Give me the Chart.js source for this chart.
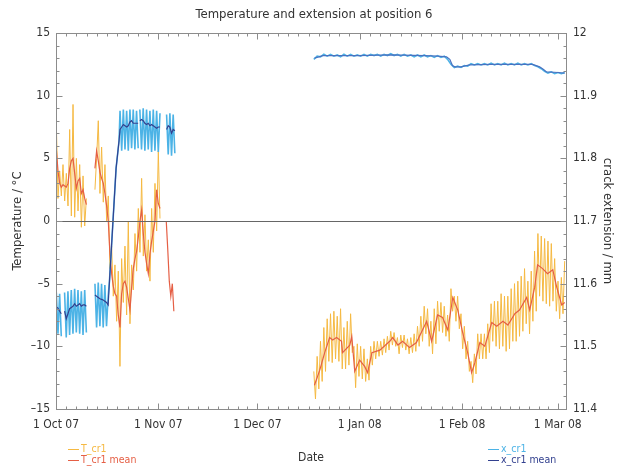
<!DOCTYPE html>
<html>
<head>
<meta charset="utf-8">
<script src="https://cdn.jsdelivr.net/npm/chart.js@4.4.1/dist/chart.umd.min.js"></script>
<style>
  html, body { margin: 0; padding: 0; background: #fff; }
</style>
</head>
<body>
<canvas id="myChart" width="624" height="469"></canvas>
<script>
// Axis ticks (days since 1 Oct 07)
const monthDays = [0, 31, 61, 92, 123, 152];
const monthLabels = ['1 Oct 07', '1 Nov 07', '1 Dec 07', '1 Jan 08', '1 Feb 08', '1 Mar 08'];
const tempTicks = [-15, -10, -5, 0, 5, 10, 15];
const extTicks = [11.4, 11.5, 11.6, 11.7, 11.8, 11.9, 12];

// T_cr1 (°C), each run sampled evenly between its first and last day
const tRawA = [7.8, 1.8, 4.0, 2.0, 4.5, 1.6, 3.8, 1.2, 7.3, 0.4, 9.3, 0.3, 5.0, 0.8, 4.5, -0.5, 3.6, -0.4, 1.8];
const tRawB = [2.5, 5.0, 8.0, 2.2, 5.9, 1.5, 4.5, 0.0, 2.0, -3.8, -2.0, -6.0, -3.5, -8.0, -4.0, -11.6, -3.0, -6.5, -2.0, -7.5,
  0.0, -8.2, -3.5, -5.5, -1.0, -4.0, 1.0, -2.5, 3.4, -2.8, 0.5, -4.0, -1.5, -4.8, 1.0, -2.5, 3.0, -0.8, 5.6, 0.2];
const tRawD = [-12.0, -14.2, -10.8, -13.4, -9.6, -12.8, -8.5, -12.0, -7.8, -11.2,
  -7.4, -11.3, -7.2, -11.0, -7.6, -11.2, -7.0, -11.8, -8.5, -11.8,
  -8.0, -11.5, -7.4, -10.5, -10.0, -13.3, -9.8, -12.4, -10.0, -12.6,
  -10.2, -12.8, -11.0, -12.7, -10.0, -11.5, -9.6, -11.0, -9.6, -10.8,
  -9.6, -10.7, -9.4, -10.5, -9.2, -10.3, -8.8, -9.9, -8.9, -10.0,
  -9.3, -10.6, -9.1, -10.1, -9.1, -10.3, -9.4, -10.6, -9.3, -10.5,
  -9.0, -10.4, -8.4, -10.0, -7.6, -9.6, -6.8, -9.0, -7.0, -10.0,
  -8.0, -10.6, -7.0, -9.8, -6.4, -8.8, -6.5, -8.9, -6.8, -9.2,
  -7.5, -9.6,
  -5.4, -7.2, -6.0, -8.0, -6.0, -8.6, -7.4, -10.2, -8.4, -11.0,
  -9.6, -12.0, -11.2, -12.9, -10.6, -12.2, -9.0, -11.0, -9.0, -11.0,
  -9.0, -11.0, -8.2, -10.5, -6.6, -9.6, -6.4, -10.0, -6.4, -10.2,
  -5.8, -10.0, -6.0, -10.4, -6.0, -10.2, -5.4, -9.6, -5.0, -9.6,
  -4.8, -9.2, -4.4, -8.8, -3.8, -8.2, -4.8, -9.0, -4.0, -8.0,
  -2.4, -7.2, -1.0, -6.0, -1.2, -6.4, -1.4, -6.6, -1.6, -6.8,
  -1.8, -6.4, -3.0, -7.2, -4.8, -7.8, -4.5, -7.4, -3.2];

// T_cr1 mean (°C)
const tMeanA = [5.7, 4.0, 3.0, 2.7, 2.9, 2.8, 2.7, 3.0, 4.2, 4.8, 5.0, 3.8, 2.6, 3.2, 3.4, 2.2, 2.5, 1.8, 1.3];
const tMeanB = [4.2, 5.6, 4.8, 3.9, 3.4, 3.0, 2.2, 1.2, 0.0, -2.6, -4.2, -5.2, -5.8, -6.0, -7.5, -8.5, -5.8, -5.0, -4.8, -5.3,
  -6.2, -7.1, -5.3, -3.8, -3.0, -2.4, -1.3, 0.0, 0.9, -1.0, -2.5, -3.4, -4.2, -2.6, -1.6, -0.8, 0.0, 2.5, 1.4, 1.0];
const tMeanC = [0.0, -2.3, -4.8, -6.0, -5.0, -7.2];
const tMeanDDays = [78.3, 79.9, 81.4, 82.9, 83.8, 85.0, 86.5, 86.8, 89.0, 89.6, 90.5, 92.0, 93.5, 94.4, 95.7, 98.1, 101.1,
  102.0, 103.6, 105.0, 107.1, 109.2, 112.3, 113.8, 115.6, 117.1, 118.7, 120.2, 121.7, 123.2, 124.7, 125.9, 126.9, 128.4,
  129.9, 132.0, 133.5, 135.4, 136.9, 139.0, 140.4, 142.6, 143.5, 145.0, 145.9, 147.4, 148.9, 150.5, 151.7, 153.2, 154.1];
const tMeanD = [-13.1, -11.9, -10.5, -9.3, -9.5, -9.3, -9.6, -10.5, -9.9, -9.2, -12.0, -11.1, -11.6, -12.1, -10.5, -10.3, -9.6,
  -9.3, -9.9, -9.6, -10.1, -9.7, -8.0, -9.6, -7.5, -7.7, -8.7, -6.1, -7.1, -8.9, -10.5, -12.1, -11.3, -9.7,
  -10.0, -8.1, -8.4, -8.0, -8.3, -7.4, -7.1, -6.1, -7.1, -5.3, -3.5, -3.8, -4.2, -3.9, -5.3, -6.7, -6.5];

// x_cr1 (mm)
const xRawA1 = [11.586, 11.520, 11.584, 11.516];
const xRawA2 = [11.586, 11.514, 11.588, 11.518, 11.590, 11.520, 11.592, 11.522, 11.590, 11.520, 11.588, 11.518, 11.590, 11.522];
const xRawB = [11.600, 11.530, 11.602, 11.532, 11.600, 11.530, 11.598, 11.532, 11.580];
const xRawH1 = [11.876, 11.812, 11.878, 11.814, 11.876, 11.812, 11.878, 11.816, 11.878, 11.814, 11.876, 11.816];
const xRawH2 = [11.878, 11.814, 11.880, 11.812, 11.878, 11.814, 11.876, 11.810, 11.878, 11.812, 11.876, 11.810, 11.872];
const xRawC = [11.870, 11.806, 11.872, 11.804, 11.870, 11.808];
const xRawD = [11.958, 11.963, 11.962, 11.966, 11.963, 11.966, 11.963, 11.965, 11.962, 11.966,
  11.963, 11.966, 11.963, 11.965, 11.963, 11.966, 11.963, 11.966, 11.964, 11.966,
  11.963, 11.966, 11.964, 11.967, 11.964, 11.966, 11.963, 11.966, 11.963, 11.965,
  11.962, 11.965, 11.962, 11.965, 11.962, 11.964, 11.961, 11.964, 11.961, 11.963,
  11.958, 11.950, 11.945, 11.947, 11.945, 11.948, 11.947, 11.951, 11.949, 11.951,
  11.949, 11.951, 11.949, 11.952, 11.949, 11.951, 11.949, 11.952, 11.949, 11.951,
  11.949, 11.952, 11.949, 11.951, 11.949, 11.951, 11.948, 11.946, 11.943, 11.939,
  11.936, 11.938, 11.935, 11.937, 11.935, 11.937];

// the jump in mid October, shared by both x_cr1 series
const riseDays = [16.2, 17.2, 18.2, 19.1];
const riseExt = [11.604, 11.694, 11.784, 11.828];

// x_cr1 mean (mm)
const xMeanA1 = [11.563, 11.561, 11.556, 11.552];
const xMeanA2 = [11.556, 11.544, 11.552, 11.560, 11.562, 11.564, 11.568, 11.564, 11.566, 11.568, 11.564, 11.566, 11.566, 11.564];
const xMeanB = [11.582, 11.580, 11.578, 11.576, 11.575, 11.574, 11.572, 11.570, 11.566];
const xMeanH1 = [11.846, 11.850, 11.854, 11.852, 11.850, 11.852, 11.858, 11.860, 11.856, 11.856, 11.856, 11.856];
const xMeanH2 = [11.860, 11.862, 11.860, 11.856, 11.854, 11.856, 11.852, 11.854, 11.852, 11.850, 11.848, 11.850, 11.850];
const xMeanC = [11.846, 11.852, 11.850, 11.840, 11.846, 11.844];
const xMeanDDays = [78.3, 79.6, 80.8, 91.3, 101.4, 111.6, 115.6, 118.3, 119.3, 120.1, 120.8, 122.7, 125.3, 131.8, 138.9,
  144.4, 146.5, 147.6, 148.6, 152.1, 154.1];
const xMeanD = [11.960, 11.962, 11.964, 11.964, 11.965, 11.964, 11.963, 11.962, 11.958, 11.948, 11.946, 11.946, 11.949, 11.950, 11.950,
  11.950, 11.946, 11.942, 11.938, 11.937, 11.936];

// Functions
function even(from, to, vals) {
  let step = (to - from) / (vals.length - 1);
  return vals.map((v, i) => ({x: from + i * step, y: v}));
}
function pairs(days, vals) {
  return vals.map((v, i) => ({x: days[i], y: v}));
}
// runs joined with a null point between them, so the line breaks
function join(runs) {
  let out = [];
  runs.forEach((r, i) => {
    if (i > 0) out.push({x: (out[out.length - 1].x + r[0].x) / 2, y: null});
    out = out.concat(r);
  });
  return out;
}

let tRaw = join([even(0.1, 9.2, tRawA), even(11.8, 31.5, tRawB), even(78.1, 154.1, tRawD)]);
let tMean = join([even(0.1, 9.2, tMeanA), even(11.8, 31.5, tMeanB), even(33.4, 35.7, tMeanC), pairs(tMeanDDays, tMeanD)]);
let xRaw = join([
  even(0.1, 1.6, xRawA1),
  even(2.6, 9.2, xRawA2),
  even(11.8, 15.8, xRawB).concat(pairs(riseDays, riseExt), even(19.4, 24.9, xRawH1)),
  even(25.4, 31.5, xRawH2),
  even(33.5, 36.0, xRawC),
  even(78.1, 154.1, xRawD)
]);
let xMeanAutumn = join([
  even(0.1, 1.6, xMeanA1),
  even(2.6, 9.2, xMeanA2),
  even(11.8, 15.8, xMeanB).concat(pairs(riseDays, riseExt), even(19.4, 24.9, xMeanH1)),
  even(25.4, 31.5, xMeanH2),
  even(33.5, 36.0, xMeanC)
]);
let xMeanWinter = pairs(xMeanDDays, xMeanD);

const FONT = "'DejaVu Sans Condensed', 'DejaVu Sans', sans-serif";
Chart.defaults.font.family = FONT;
Chart.defaults.color = '#333';

const T_RAW = '#f5b942', T_MEAN = '#e55f45', X_RAW = '#4cb3e6', X_MEAN = '#33418f';

let framePlugin = {
  id: 'frame',
  afterDatasetsDraw(chart) {
    let ctx = chart.ctx;
    let a = chart.chartArea;
    let sx = chart.scales.x, sy = chart.scales.y, sy1 = chart.scales.y1;
    ctx.save();
    ctx.lineWidth = 1;
    // zero line
    let y0 = Math.round(sy.getPixelForValue(0)) + 0.5;
    ctx.strokeStyle = '#666';
    ctx.beginPath();
    ctx.moveTo(a.left, y0);
    ctx.lineTo(a.right, y0);
    ctx.stroke();
    // box
    ctx.strokeStyle = '#8c8c8c';
    let l = Math.round(a.left) + 0.5, t = Math.round(a.top) + 0.5;
    let r = Math.round(a.right) + 0.5, b = Math.round(a.bottom) + 0.5;
    ctx.strokeRect(l, t, r - l, b - t);
    ctx.beginPath();
    // date ticks, ten per month, on bottom and top
    for (let m = 0; m < monthDays.length; m++) {
      let d0 = monthDays[m];
      let d1 = m + 1 < monthDays.length ? monthDays[m + 1] : d0 + 29;
      for (let k = 0; k < 10; k++) {
        let d = d0 + k * (d1 - d0) / 10;
        if (d > sx.max) break;
        let px = Math.round(sx.getPixelForValue(d)) + 0.5;
        let len = k === 0 ? 6 : 3;
        ctx.moveTo(px, b); ctx.lineTo(px, b - len);
        ctx.moveTo(px, t); ctx.lineTo(px, t + len);
      }
    }
    // temperature ticks every 1 °C
    for (let v = -15; v <= 15; v++) {
      let py = Math.round(sy.getPixelForValue(v)) + 0.5;
      let len = v % 5 === 0 ? 6 : 3;
      ctx.moveTo(l, py); ctx.lineTo(l + len, py);
    }
    // extension ticks every 0.02 mm
    for (let i = 0; i <= 30; i++) {
      let py = Math.round(sy1.getPixelForValue(11.4 + i * 0.02)) + 0.5;
      let len = i % 5 === 0 ? 6 : 3;
      ctx.moveTo(r, py); ctx.lineTo(r - len, py);
    }
    ctx.stroke();
    ctx.restore();
  },
  afterDraw(chart) {
    let ctx = chart.ctx;
    ctx.save();
    ctx.fillStyle = '#333';
    ctx.font = '13px ' + FONT;
    ctx.textAlign = 'center';
    ctx.textBaseline = 'middle';
    ctx.fillText('Temperature and extension at position 6', 314, 15);
    // legends
    ctx.font = '10.5px ' + FONT;
    ctx.textAlign = 'left';
    let rows = [
      ['T_cr1', T_RAW, 68, 449],
      ['T_cr1 mean', T_MEAN, 68, 460],
      ['x_cr1', X_RAW, 488, 449],
      ['x_cr1 mean', X_MEAN, 488, 460]
    ];
    rows.forEach(row => {
      ctx.strokeStyle = row[1];
      ctx.fillStyle = row[1];
      ctx.lineWidth = 1;
      ctx.beginPath();
      ctx.moveTo(row[2], row[3] + 0.5);
      ctx.lineTo(row[2] + 11, row[3] + 0.5);
      ctx.stroke();
      ctx.fillText(row[0], row[2] + 13, row[3]);
    });
    ctx.restore();
  }
};

let ctx = document.getElementById('myChart').getContext('2d');
let myChart = new Chart(ctx, {
  type: 'line',
  data: {
    datasets: [
      { label: 'x_cr1 mean', data: xMeanAutumn, yAxisID: 'y1', borderColor: X_MEAN, borderWidth: 1.2 },
      { label: 'x_cr1 mean', data: xMeanWinter, yAxisID: 'y1', borderColor: '#4a72c0', borderWidth: 1.2 },
      { label: 'x_cr1', data: xRaw, yAxisID: 'y1', borderColor: X_RAW, borderWidth: 1.6 },
      { label: 'T_cr1 mean', data: tMean, yAxisID: 'y', borderColor: T_MEAN, borderWidth: 1.2 },
      { label: 'T_cr1', data: tRaw, yAxisID: 'y', borderColor: T_RAW, borderWidth: 1 }
    ]
  },
  options: {
    responsive: false,
    animation: false,
    layout: { padding: { top: 33, left: 0, right: 0, bottom: 0 } },
    elements: { point: { radius: 0 }, line: { tension: 0 } },
    plugins: { legend: { display: false }, tooltip: { enabled: false } },
    scales: {
      x: {
        type: 'linear',
        min: 0,
        max: 154.5,
        grid: { display: false, drawTicks: false },
        border: { display: false },
        afterBuildTicks: s => { s.ticks = monthDays.map(v => ({ value: v })); },
        afterFit: s => { s.height = 60; },
        ticks: {
          autoSkip: false,
          maxRotation: 0,
          padding: 9,
          font: { size: 12 },
          callback: (v, i) => monthLabels[i]
        },
        title: { display: true, text: 'Date', font: { size: 12 }, padding: { top: 0, bottom: 4 } }
      },
      y: {
        position: 'left',
        min: -15,
        max: 15,
        grid: { display: false, drawTicks: false },
        border: { display: false },
        afterBuildTicks: s => { s.ticks = tempTicks.map(v => ({ value: v })); },
        afterFit: s => { s.width = 56; },
        ticks: {
          padding: 6,
          font: { size: 12 },
          callback: v => String(v).replace('-', '\u2013')
        },
        title: { display: true, text: 'Temperature / \u00b0C', font: { size: 13 }, padding: { top: 10, bottom: 0 } }
      },
      y1: {
        position: 'right',
        min: 11.4,
        max: 12,
        grid: { display: false, drawTicks: false },
        border: { display: false },
        afterBuildTicks: s => { s.ticks = extTicks.map(v => ({ value: v })); },
        afterFit: s => { s.width = 58; },
        ticks: {
          padding: 7,
          font: { size: 12 },
          callback: v => String(+v.toFixed(1))
        },
        title: { display: true, text: 'crack extension / mm', font: { size: 13 }, padding: { top: 9, bottom: 0 } }
      }
    }
  },
  plugins: [framePlugin]
});
</script>
</body>
</html>
